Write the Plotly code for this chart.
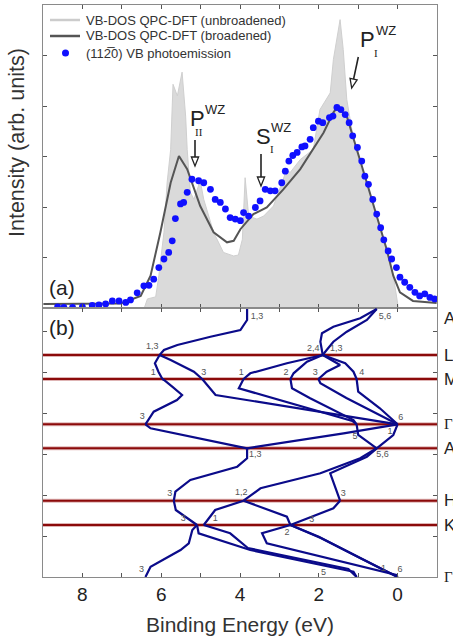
import math
import plotly.graph_objects as go

# ---------------- panel (a): DOS and photoemission ----------------
dos_E = [6.43, 6.35, 6.14, 6.06, 5.93, 5.85, 5.76, 5.70, 5.59, 5.47, 5.38, 5.34, 5.26, 5.17,
         5.01, 4.92, 4.67, 4.42, 4.16, 4.04, 3.94, 3.87, 3.78, 3.57, 3.40, 3.15, 2.81, 2.73,
         2.47, 2.14, 1.97, 1.71, 1.63, 1.54, 1.46, 1.38, 1.29, 1.12, 1.00, 0.95, 0.78, 0.53,
         0.28, 0.11, 0.03, -0.02]
dos_I = [0.0, 0.18, 0.22, 0.64, 1.50, 2.48, 3.14, 4.43, 4.20, 4.67, 3.80, 3.14, 2.29, 2.15,
         2.52, 2.15, 1.50, 1.10, 1.03, 1.05, 1.36, 2.58, 1.82, 1.76, 1.82, 2.02, 2.75, 2.68,
         2.94, 3.14, 3.93, 4.26, 4.92, 5.32, 5.71, 5.12, 4.13, 3.34, 3.01, 2.81, 2.48, 1.82,
         1.17, 0.64, 0.18, 0.0]

brd_E = [8.99, 7.54, 7.03, 6.52, 6.27, 6.02, 5.76, 5.55, 5.34, 5.01, 4.67, 4.33, 4.16, 3.99,
         3.66, 3.32, 2.90, 2.47, 2.14, 1.88, 1.63, 1.54, 1.29, 1.08, 0.95, 0.78, 0.53, 0.28,
         0.11, -0.06, -0.39, -0.99]
brd_I = [0.08, 0.08, 0.09, 0.24, 0.64, 1.50, 2.48, 3.01, 2.75, 2.02, 1.50, 1.30, 1.33, 1.56,
         1.86, 1.99, 2.35, 2.75, 3.14, 3.47, 3.87, 3.97, 3.80, 3.27, 2.94, 2.48, 1.82, 1.17,
         0.64, 0.31, 0.14, 0.10]

pes_E = [8.63, 8.47, 8.25, 8.00, 7.75, 7.58, 7.41, 7.24, 7.07, 6.90, 6.78, 6.61, 6.44, 6.31,
         6.19, 6.06, 5.93, 5.81, 5.72, 5.64, 5.51, 5.43, 5.34, 5.22, 5.05, 4.92, 4.75, 4.63,
         4.50, 4.37, 4.25, 4.12, 3.99, 3.91, 3.78, 3.61, 3.49, 3.36, 3.23, 3.11, 2.94, 2.85,
         2.76, 2.66, 2.55, 2.43, 2.35, 2.22, 2.14, 2.01, 1.90, 1.73, 1.64, 1.54, 1.44, 1.33,
         1.23, 1.14, 1.02, 0.91, 0.83, 0.74, 0.63, 0.53, 0.43, 0.35, 0.24, 0.15, 0.03, -0.06,
         -0.18, -0.31, -0.44, -0.56, -0.69, -0.82, -0.94]
pes_I = [0.02, 0.01, 0.01, 0.02, 0.05, 0.06, 0.08, 0.14, 0.14, 0.11, 0.16, 0.30, 0.44, 0.45,
         0.57, 0.80, 0.97, 1.10, 1.33, 1.77, 2.06, 2.09, 2.29, 2.55, 2.52, 2.48, 2.35, 2.15,
         2.09, 1.96, 1.79, 1.76, 1.73, 1.89, 1.82, 1.99, 2.12, 2.35, 2.32, 2.32, 2.48, 2.71,
         2.91, 3.02, 3.08, 3.19, 3.21, 3.34, 3.57, 3.70, 3.67, 3.77, 3.80, 3.97, 3.93, 3.83,
         3.67, 3.41, 3.18, 2.91, 2.61, 2.45, 2.15, 1.86, 1.59, 1.35, 1.13, 0.97, 0.80, 0.61,
         0.51, 0.41, 0.31, 0.24, 0.28, 0.21, 0.18]

legend_names = ["VB-DOS QPC-DFT (unbroadened)", "VB-DOS QPC-DFT (broadened)",
                "(112\u03050) VB photoemission"]

# ---------------- panel (b): band structure (E in eV, k in path units) ----------------
sec_AL_E = [[3.82, 3.82, 3.99, 4.75, 5.59, 5.93, 6.04],
            [0.53, 0.95, 1.63, 1.92, 1.96, 1.90],
            [0.53, 0.78, 1.29, 1.63, 1.80, 1.90]]
sec_AL_k = [[268, 257, 247, 240.3, 232, 227, 222],
            [268, 258.7, 250.3, 243.7, 235.3, 222],
            [268, 257, 245.3, 235.3, 227, 222]]

sec_LM_E = [[6.04, 6.16, 6.07, 5.97], [6.04, 5.76, 5.17, 4.96], [1.90, 2.81, 3.74, 3.91],
            [1.90, 2.30, 2.64, 2.72], [1.90, 1.46, 1.80, 2.01], [1.90, 1.33, 1.12, 1.04]]
sec_LM_k = [[222, 213.7, 205.3, 198], [222, 217, 205.3, 198], [222, 213.7, 203.7, 198],
            [222, 215.3, 203.7, 198], [222, 212, 205.3, 198], [222, 213.7, 205.3, 198]]

sec_MG_E = [[5.97, 5.93, 5.72, 5.47, 5.60, 6.19, 6.40], [4.96, 4.62, 0.0],
            [3.91, 4.03, 1.15, 1.04], [2.72, 2.68, 2.22, 1.12, 1.04],
            [2.01, 1.96, 1.30, 0.0], [1.04, 1.00, 0.45, 0.0]]
sec_MG_k = [[198, 197, 190.3, 182, 177, 165.3, 152.7], [198, 182, 152.7],
            [198, 188.7, 156, 152.7], [198, 188.7, 178.7, 157, 152.7],
            [198, 193.7, 179, 152.7], [198, 185.3, 168.7, 152.7]]

sec_GA_E = [[6.40, 6.27, 3.82], [0.0, 1.37, 3.82], [1.04, 1.00, 0.53], [0.0, 0.11, 0.53]]
sec_GA_k = [[152.7, 148.7, 128.7], [152.7, 143.7, 128.7], [152.7, 142, 128.7], [152.7, 142, 128.7]]

sec_AH_E = [[3.82, 3.82, 4.07, 5.26, 5.64, 5.68], [0.53, 0.95, 1.96, 3.48, 3.91],
            [0.53, 0.78, 1.71, 1.63, 1.46]]
sec_AH_k = [[128.7, 118.7, 110.3, 97, 85.3, 76.3], [128.7, 118.7, 103.7, 88.7, 76.3],
            [128.7, 120.3, 103.7, 95.3, 76.3]]

sec_HK_E = [[5.68, 5.63, 5.09], [3.91, 4.63, 4.92], [3.91, 2.81, 2.72], [1.46, 1.63, 2.72]]
sec_HK_k = [[76.3, 67, 52], [76.3, 67, 52], [76.3, 60.3, 52], [76.3, 68.7, 52]]

sec_KG_E = [[5.09, 5.21, 5.30, 5.51, 6.27, 6.40], [5.09, 5.05, 3.74, 1.12, 1.04],
            [4.92, 4.25, 3.80, 1.25, 1.04], [2.72, 3.44, 3.32, 0.03, 0.0],
            [2.72, 2.00, 0.90, 0.0], [2.72, 1.95, 0.85, 0.0]]
sec_KG_k = [[52, 47, 33.7, 27, 10.3, 0], [52, 43.7, 27, 5.3, 0],
            [52, 43.7, 29, 8, 0], [52, 43.7, 33.7, 2, 0],
            [52, 40.3, 18, 0], [52, 39, 17, 0]]

sym_names = ["A", "L", "M", "Γ", "A", "H", "K", "Γ"]
sym_k = [268, 222, 198, 152.7, 128.7, 76.3, 52, 0]

lbl_text = ["1,3", "5,6", "1,3", "2,4", "1,3", "1", "3", "1", "2", "3", "4", "3", "6", "5",
            "1", "1,3", "5,6", "3", "1,2", "3", "3", "1", "3", "2", "3", "5", "1", "6"]
lbl_E = [3.57, 0.32, 6.23, 2.14, 1.56, 6.20, 4.92, 3.97, 2.83, 2.09, 0.91, 6.48, -0.08, 1.08,
         0.19, 3.61, 0.38, 5.78, 3.97, 1.38, 5.44, 4.63, 2.18, 2.81, 6.50, 1.88, 0.36, -0.06]
lbl_k = [260.3, 260.3, 230.3, 228.7, 228.7, 204.3, 204.3, 204.3, 204.3, 204.3, 204.3, 160.3,
         159.7, 140.3, 145.3, 122, 122, 83.7, 84.7, 83.7, 58, 58, 57, 44.3, 7.7, 4.3, 8.7, 7.7]

x_ticks = [8, 7, 6, 5, 4, 3, 2, 1, 0]
x_ticktext = ["8", "", "6", "", "4", "", "2", "", "0"]

# ---------------- figure ----------------
W, H = 453, 641
ML, MR, MT, MB = 43, 16, 5, 64
split_px = 308


def px(x, y):
    return (x - ML) / (W - ML - MR), (H - MB - y) / (H - MT - MB)


split = px(0, split_px)[1]
SANS = "Liberation Sans, Arial, sans-serif"
SERIF = "Liberation Serif, Times New Roman, serif"
NAVY = "#0b0b8a"
RED = "#8b0a0a"
BLUE = "#1010ff"

fig = go.Figure()

fig.add_trace(go.Scatter(x=dos_E, y=dos_I, mode="lines", fill="tozeroy",
                         fillcolor="#dadada", line=dict(color="#cfcfcf", width=1),
                         showlegend=False, xaxis="x", yaxis="y"))
fig.add_trace(go.Scatter(x=brd_E, y=brd_I, mode="lines", line=dict(color="#555555", width=2),
                         showlegend=False, xaxis="x", yaxis="y"))
fig.add_trace(go.Scatter(x=pes_E, y=pes_I, mode="markers",
                         marker=dict(color=BLUE, size=6.8, line=dict(width=0)),
                         showlegend=False, xaxis="x", yaxis="y"))

shapes = []
ann = []


def pshape(**kw):
    d = dict(xref="paper", yref="paper")
    d.update(kw)
    shapes.append(d)


def txt(x, y, s, size, family=SANS, color="#222222", **kw):
    xx, yy = px(x, y)
    d = dict(x=xx, y=yy, xref="paper", yref="paper", text=s, showarrow=False,
             xanchor="center", yanchor="middle", font=dict(size=size, color=color, family=family))
    d.update(kw)
    ann.append(d)


# manual legend
leg_y = [20, 36, 53]
for (col, w), yy in zip([("#cccccc", 2.5), ("#555555", 2.5)], leg_y[:2]):
    x0, y0 = px(50, yy)
    x1, _ = px(80, yy)
    pshape(type="line", x0=x0, x1=x1, y0=y0, y1=y0, line=dict(color=col, width=w))
cx0, cy0 = px(62, leg_y[2] - 3.5)
cx1, cy1 = px(69, leg_y[2] + 3.5)
pshape(type="circle", x0=cx0, x1=cx1, y0=cy0, y1=cy1, fillcolor=BLUE, line=dict(width=0))
for name, yy in zip(legend_names, leg_y):
    txt(84, yy, name, 13, color="#333333", xanchor="left")

# high-symmetry lines
for k in sym_k[1:-1]:
    shapes.append(dict(type="line", xref="x2 domain", yref="y2", x0=0, x1=1, y0=k, y1=k,
                       line=dict(color="rgba(160,40,40,0.35)", width=4), layer="below"))
    shapes.append(dict(type="line", xref="x2 domain", yref="y2", x0=0, x1=1, y0=k, y1=k,
                       line=dict(color=RED, width=2), layer="below"))

for secE, secK in [(sec_AL_E, sec_AL_k), (sec_LM_E, sec_LM_k), (sec_MG_E, sec_MG_k),
                   (sec_GA_E, sec_GA_k), (sec_AH_E, sec_AH_k), (sec_HK_E, sec_HK_k),
                   (sec_KG_E, sec_KG_k)]:
    for e, k in zip(secE, secK):
        fig.add_trace(go.Scatter(x=e, y=k, mode="lines", line=dict(color=NAVY, width=2.2),
                                 showlegend=False, xaxis="x2", yaxis="y2"))

fig.add_trace(go.Scatter(x=lbl_E, y=lbl_k, mode="text", text=lbl_text,
                         textfont=dict(size=9, color="#555555", family=SANS),
                         showlegend=False, xaxis="x2", yaxis="y2"))

for name, k in zip(sym_names, sym_k):
    kk = 259 if k == 268 else k
    ann.append(dict(x=1.012, xref="paper", y=kk, yref="y2", text=name, showarrow=False,
                    xanchor="left", yanchor="middle",
                    font=dict(size=15 if name == "Γ" else 17, color="#222222",
                              family=SERIF if name == "Γ" else SANS)))

txt(62, 287, "(a)", 21)
txt(62, 327, "(b)", 21)
txt(17, 143, "Intensity (arb. units)", 21.5, color="#333333", textangle=-90)
txt(240, 624, "Binding Energy (eV)", 21, color="#333333")

txt(367.5, 39, "P", 22)
txt(386, 31, "WZ", 13)
txt(375.5, 53, "I", 11, family=SERIF)
txt(197.5, 118, "P", 22)
txt(215, 110, "WZ", 13)
txt(199, 132, "II", 11, family=SERIF)
txt(263, 137, "S", 22)
txt(281, 128, "WZ", 13)
txt(272, 149, "I", 11, family=SERIF)

# arrows with open triangular heads (pixel geometry of the annotation marks)
for (tx, ty, hx, hy) in [(358.3, 57, 351.7, 88), (195, 140, 195, 166), (261, 154, 261, 186)]:
    L = math.hypot(hx - tx, hy - ty)
    dx, dy = (hx - tx) / L, (hy - ty) / L
    bx, by = hx - 9 * dx, hy - 9 * dy
    nx, ny = -dy, dx
    a = px(tx, ty)
    b = px(bx, by)
    pshape(type="line", x0=a[0], y0=a[1], x1=b[0], y1=b[1], line=dict(color="#222222", width=1.6))
    p1 = px(hx, hy)
    p2 = px(bx + 3.6 * nx, by + 3.6 * ny)
    p3 = px(bx - 3.6 * nx, by - 3.6 * ny)
    pshape(type="path", path=f"M {p1[0]},{p1[1]} L {p2[0]},{p2[1]} L {p3[0]},{p3[1]} Z",
           fillcolor="white", line=dict(color="#222222", width=1.3))

axcommon = dict(showline=True, linecolor="#8a8a8a", linewidth=1.2, mirror="ticks",
                ticks="inside", tickcolor="#555555", ticklen=4, zeroline=False, showgrid=False)

fig.update_layout(
    width=W, height=H, margin=dict(l=ML, r=MR, t=MT, b=MB),
    paper_bgcolor="white", plot_bgcolor="white",
    font=dict(family=SANS, color="#222222"),
    showlegend=False,
    xaxis=dict(domain=[0, 1], range=[9, -1], anchor="y", tickvals=x_ticks,
               showticklabels=False, **axcommon),
    yaxis=dict(domain=[split, 1], range=[0, 6], anchor="x", tickvals=[1, 2, 3, 4, 5],
               showticklabels=False, **axcommon),
    xaxis2=dict(domain=[0, 1], range=[9, -1], anchor="y2", tickvals=x_ticks, ticktext=x_ticktext,
                tickfont=dict(size=19, color="#222222"), **axcommon),
    yaxis2=dict(domain=[0, split], range=[0, 269], anchor="x2",
                tickvals=[0, 41, 82, 123, 164, 205, 246], showticklabels=False, **axcommon),
    shapes=shapes,
    annotations=ann,
)

fig.write_html("out.html", config={"displayModeBar": False},
               post_script="document.body.style.margin='0px';")
